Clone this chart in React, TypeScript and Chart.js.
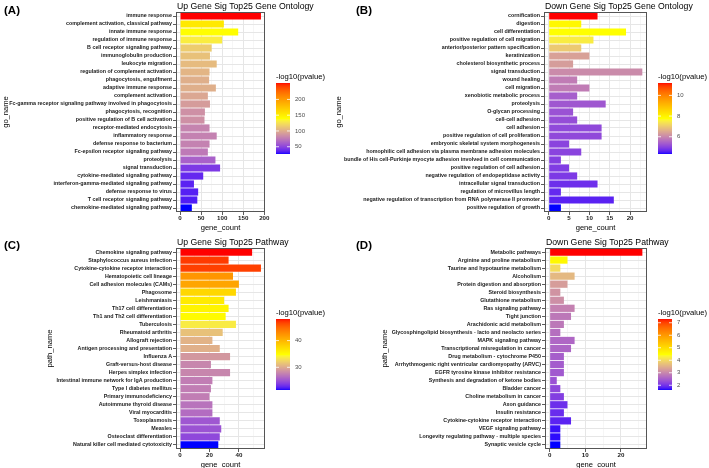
import React, { useEffect, useRef } from "react";
import { Chart, registerables } from "chart.js";
Chart.register(...registerables);

const FONT = "'Liberation Sans', Arial, Helvetica, sans-serif";

// ---------- DATA ----------
const goUpNames = [
  "immune response", "complement activation, classical pathway", "innate immune response",
  "regulation of immune response", "B cell receptor signaling pathway", "immunoglobulin production",
  "leukocyte migration", "regulation of complement activation", "phagocytosis, engulfment",
  "adaptive immune response", "complement activation",
  "Fc-gamma receptor signaling pathway involved in phagocytosis", "phagocytosis, recognition",
  "positive regulation of B cell activation", "receptor-mediated endocytosis", "inflammatory response",
  "defense response to bacterium", "Fc-epsilon receptor signaling pathway", "proteolysis",
  "signal transduction", "cytokine-mediated signaling pathway",
  "interferon-gamma-mediated signaling pathway", "defense response to virus",
  "T cell receptor signaling pathway", "chemokine-mediated signaling pathway",
];
const goUpCounts = [192, 104, 138, 100, 75, 71, 87, 70, 69, 85, 66, 71, 59, 58, 70, 87, 70, 66, 84, 95, 55, 33, 43, 41, 28];
const goUpLogP = [252, 153, 140, 131, 115, 110, 107, 104, 101, 101, 97, 92, 86, 86, 80, 79, 79, 75, 63, 45, 38, 36, 35, 34, 27];
const goUpLegendTicks = [50, 100, 150, 200];

const goDownNames = [
  "cornification", "digestion", "cell differentiation", "positive regulation of cell migration",
  "anterior/posterior pattern specification", "keratinization", "cholesterol biosynthetic process",
  "signal transduction", "wound healing", "cell migration", "xenobiotic metabolic process",
  "proteolysis", "O-glycan processing", "cell-cell adhesion", "cell adhesion",
  "positive regulation of cell proliferation", "embryonic skeletal system morphogenesis",
  "homophilic cell adhesion via plasma membrane adhesion molecules",
  "bundle of His cell-Purkinje myocyte adhesion involved in cell communication",
  "positive regulation of cell adhesion", "negative regulation of endopeptidase activity",
  "intracellular signal transduction", "regulation of microvillus length",
  "negative regulation of transcription from RNA polymerase II promoter", "positive regulation of growth",
];
const goDownCounts = [12, 8, 19, 11, 8, 10, 6, 23, 7, 10, 7, 14, 6, 7, 13, 13, 5, 8, 3, 5, 7, 12, 3, 16, 3];
const goDownLogP = [11.2, 7.9, 7.77, 7.49, 6.97, 6.39, 6.32, 6.05, 5.84, 5.84, 5.39, 5.29, 5.22, 5.15, 5.09, 5.09, 5.02, 5.02, 4.95, 4.91, 4.88, 4.74, 4.67, 4.6, 4.33];
const goDownLegendTicks = [6, 8, 10];

const pathUpNames = [
  "Chemokine signaling pathway", "Staphylococcus aureus infection", "Cytokine-cytokine receptor interaction",
  "Hematopoietic cell lineage", "Cell adhesion molecules (CAMs)", "Phagosome", "Leishmaniasis",
  "Th17 cell differentiation", "Th1 and Th2 cell differentiation", "Tuberculosis", "Rheumatoid arthritis",
  "Allograft rejection", "Antigen processing and presentation", "Influenza A", "Graft-versus-host disease",
  "Herpes simplex infection", "Intestinal immune network for IgA production", "Type I diabetes mellitus",
  "Primary immunodeficiency", "Autoimmune thyroid disease", "Viral myocarditis", "Toxoplasmosis",
  "Measles", "Osteoclast differentiation", "Natural killer cell mediated cytotoxicity",
];
const pathUpCounts = [49, 33, 55, 36, 40, 38, 30, 33, 31, 38, 29, 22, 27, 34, 21, 34, 22, 21, 20, 22, 22, 27, 28, 27, 26];
const pathUpLogP = [48.1, 47.0, 46.8, 42.2, 41.2, 37.7, 36.3, 35.6, 35.1, 33.7, 31.3, 30.5, 30.3, 28.9, 27.9, 27.9, 27.4, 27.4, 27.4, 26.8, 26.4, 25.2, 25.0, 24.4, 21.5];
const pathUpLegendTicks = [30, 40];

const pathDownNames = [
  "Metabolic pathways", "Arginine and proline metabolism", "Taurine and hypotaurine metabolism",
  "Alcoholism", "Protein digestion and absorption", "Steroid biosynthesis", "Glutathione metabolism",
  "Ras signaling pathway", "Tight junction", "Arachidonic acid metabolism",
  "Glycosphingolipid biosynthesis - lacto and neolacto series", "MAPK signaling pathway",
  "Transcriptional misregulation in cancer", "Drug metabolism - cytochrome P450",
  "Arrhythmogenic right ventricular cardiomyopathy (ARVC)", "EGFR tyrosine kinase inhibitor resistance",
  "Synthesis and degradation of ketone bodies", "Bladder cancer", "Choline metabolism in cancer",
  "Axon guidance", "Insulin resistance", "Cytokine-cytokine receptor interaction",
  "VEGF signaling pathway", "Longevity regulating pathway - multiple species", "Synaptic vesicle cycle",
];
const pathDownCounts = [26, 5, 3, 7, 5, 3, 4, 7, 6, 4, 3, 7, 6, 4, 4, 4, 2, 3, 4, 5, 4, 6, 3, 3, 3];
const pathDownLogP = [7.3, 4.57, 4.01, 3.61, 3.27, 3.15, 3.1, 2.93, 2.81, 2.81, 2.7, 2.61, 2.59, 2.5, 2.47, 2.44, 2.36, 2.24, 2.13, 1.96, 1.93, 1.85, 1.71, 1.68, 1.62];
const pathDownLegendTicks = [2, 3, 4, 5, 6, 7];

// ---------- COLOUR (Lab interpolation blue -> yellow -> red) ----------
const Xn = 0.95047, Yn = 1, Zn = 1.08883;
const toLin = (c: number) => { c /= 255; return c <= 0.04045 ? c / 12.92 : Math.pow((c + 0.055) / 1.055, 2.4); };
const fromLin = (c: number) => {
  const v = c <= 0.0031308 ? 12.92 * c : 1.055 * Math.pow(Math.max(c, 0), 1 / 2.4) - 0.055;
  return Math.round(Math.max(0, Math.min(1, v)) * 255);
};
const fl = (t: number) => (t > 0.008856 ? Math.cbrt(t) : 7.787 * t + 16 / 116);
const finv = (t: number) => (t > 0.206893 ? t * t * t : (t - 16 / 116) / 7.787);
function rgb2lab(rgb: number[]) {
  const R = toLin(rgb[0]), G = toLin(rgb[1]), B = toLin(rgb[2]);
  const X = 0.4124 * R + 0.3576 * G + 0.1805 * B;
  const Y = 0.2126 * R + 0.7152 * G + 0.0722 * B;
  const Z = 0.0193 * R + 0.1192 * G + 0.9505 * B;
  const fx = fl(X / Xn), fy = fl(Y / Yn), fz = fl(Z / Zn);
  return [116 * fy - 16, 500 * (fx - fy), 200 * (fy - fz)];
}
function lab2rgb(lab: number[]) {
  const fy = (lab[0] + 16) / 116, fx = fy + lab[1] / 500, fz = fy - lab[2] / 200;
  const X = Xn * finv(fx), Y = Yn * finv(fy), Z = Zn * finv(fz);
  const R = 3.2406 * X - 1.5372 * Y - 0.4986 * Z;
  const G = -0.9689 * X + 1.8758 * Y + 0.0415 * Z;
  const B = 0.0557 * X - 0.204 * Y + 1.057 * Z;
  return [fromLin(R), fromLin(G), fromLin(B)];
}
const STOPS = [[0, 0, 255], [255, 255, 0], [255, 0, 0]].map(rgb2lab);
function colorAt(t: number) {
  t = Math.max(0, Math.min(1, t));
  const seg = t < 0.5 ? 0 : 1;
  const u = seg === 0 ? t * 2 : (t - 0.5) * 2;
  const a = STOPS[seg], b = STOPS[seg + 1];
  const rgb = lab2rgb([a[0] + (b[0] - a[0]) * u, a[1] + (b[1] - a[1]) * u, a[2] + (b[2] - a[2]) * u]);
  return `rgb(${rgb[0]},${rgb[1]},${rgb[2]})`;
}

// ---------- PANELS ----------
type Spec = {
  letter: string; letterPos: [number, number]; title: string; yTitle: string; yTitleX: number;
  names: string[]; counts: number[]; logp: number[]; legendTicks: number[];
  minor: number; major: number;
  canvas: { x: number; y: number; w: number; h: number };
  plot: { l: number; r: number; t: number; b: number };
};

const SPECS: Spec[] = [
  {
    letter: "(A)", letterPos: [4, 14], title: "Up Gene Sig Top25 Gene Ontology", yTitle: "go_name", yTitleX: 6,
    names: goUpNames, counts: goUpCounts, logp: goUpLogP, legendTicks: goUpLegendTicks, minor: 25, major: 50,
    canvas: { x: 0, y: 0, w: 334, h: 234 }, plot: { l: 176, r: 265, t: 12, b: 212 },
  },
  {
    letter: "(B)", letterPos: [356, 14], title: "Down Gene Sig Top25 Gene Ontology", yTitle: "go_name", yTitleX: 339,
    names: goDownNames, counts: goDownCounts, logp: goDownLogP, legendTicks: goDownLegendTicks, minor: 2.5, major: 5,
    canvas: { x: 334, y: 0, w: 375, h: 234 }, plot: { l: 544, r: 647, t: 12, b: 212 },
  },
  {
    letter: "(C)", letterPos: [4, 249], title: "Up Gene Sig Top25 Pathway", yTitle: "path_name", yTitleX: 50,
    names: pathUpNames, counts: pathUpCounts, logp: pathUpLogP, legendTicks: pathUpLegendTicks, minor: 10, major: 20,
    canvas: { x: 0, y: 234, w: 334, h: 234 }, plot: { l: 176, r: 265, t: 248, b: 449 },
  },
  {
    letter: "(D)", letterPos: [356, 249], title: "Down Gene Sig Top25 Pathway", yTitle: "path_name", yTitleX: 385,
    names: pathDownNames, counts: pathDownCounts, logp: pathDownLogP, legendTicks: pathDownLegendTicks, minor: 5, major: 10,
    canvas: { x: 355, y: 234, w: 354, h: 234 }, plot: { l: 545, r: 647, t: 248, b: 449 },
  },
];

const X_AXIS_H = 12;

function makeDeco(spec: Spec, lo: number, hi: number) {
  const cx = spec.canvas.x, cy = spec.canvas.y;
  return {
    id: "deco",
    afterDatasetsDraw(chart: any) {
      const ctx = chart.ctx as CanvasRenderingContext2D;
      const a = chart.chartArea;
      ctx.save();
      ctx.strokeStyle = "#555555";
      ctx.lineWidth = 1;
      ctx.strokeRect(Math.round(a.left) + 0.5, Math.round(a.top) + 0.5, Math.round(a.right - a.left) - 1, Math.round(a.bottom - a.top) - 1);
      ctx.restore();
    },
    afterDraw(chart: any) {
      const ctx = chart.ctx as CanvasRenderingContext2D;
      const p = spec.plot;
      ctx.save();
      // panel letter
      ctx.fillStyle = "#000";
      ctx.textAlign = "left";
      ctx.textBaseline = "alphabetic";
      ctx.font = `bold 11.5px ${FONT}`;
      ctx.fillText(spec.letter, spec.letterPos[0] - cx, spec.letterPos[1] - cy);
      // title
      ctx.font = `8.7px ${FONT}`;
      ctx.fillText(spec.title, p.l + 1 - cx, p.t - 3.5 - cy);
      // x title
      ctx.font = `7.6px ${FONT}`;
      ctx.textAlign = "center";
      ctx.textBaseline = "middle";
      ctx.fillText("gene_count", (p.l + p.r) / 2 - cx, p.b + 15.5 - cy);
      // y title
      ctx.save();
      ctx.translate(spec.yTitleX - cx, (p.t + p.b) / 2 - cy);
      ctx.rotate(-Math.PI / 2);
      ctx.fillText(spec.yTitle, 0, 0);
      ctx.restore();
      // colour bar
      const cb = { x: p.r + 11 - cx, y: p.t + 71 - cy, w: 14, h: 71 };
      for (let i = 0; i < cb.h; i++) {
        ctx.fillStyle = colorAt(1 - (i + 0.5) / cb.h);
        ctx.fillRect(cb.x, cb.y + i, cb.w, 1);
      }
      ctx.fillStyle = "#000";
      ctx.textAlign = "left";
      ctx.textBaseline = "alphabetic";
      ctx.font = `7.7px ${FONT}`;
      ctx.fillText("-log10(pvalue)", cb.x, cb.y - 4);
      ctx.font = `6px ${FONT}`;
      ctx.textBaseline = "middle";
      spec.legendTicks.forEach((v) => {
        const y = cb.y + (1 - (v - lo) / (hi - lo)) * cb.h;
        ctx.strokeStyle = "#ffffff";
        ctx.lineWidth = 0.8;
        ctx.beginPath();
        ctx.moveTo(cb.x, y); ctx.lineTo(cb.x + 3, y);
        ctx.moveTo(cb.x + cb.w - 3, y); ctx.lineTo(cb.x + cb.w, y);
        ctx.stroke();
        ctx.fillStyle = "#4d4d4d";
        ctx.fillText(String(v), cb.x + cb.w + 5, y);
      });
      ctx.restore();
    },
  };
}

function buildConfig(spec: Spec): any {
  const lo = Math.min(...spec.logp), hi = Math.max(...spec.logp);
  const maxCount = Math.max(...spec.counts);
  const xmin = -0.05 * maxCount, xmax = 1.05 * maxCount;
  const tickVals: number[] = [];
  for (let i = 0; i * spec.minor <= xmax; i++) tickVals.push(Math.round(i * spec.minor * 1000) / 1000);
  const isMajor = (v: number) => Math.abs(v / spec.major - Math.round(v / spec.major)) < 1e-6;
  const c = spec.canvas, p = spec.plot;
  return {
    type: "bar",
    data: {
      labels: spec.names,
      datasets: [{
        data: spec.counts,
        backgroundColor: spec.logp.map((v) => colorAt((v - lo) / (hi - lo))),
        borderWidth: 0,
        barPercentage: 0.9,
        categoryPercentage: 1,
      }],
    },
    options: {
      indexAxis: "y",
      responsive: false,
      animation: false,
      devicePixelRatio: 1,
      layout: {
        padding: {
          left: 0,
          top: p.t - c.y,
          right: c.x + c.w - p.r,
          bottom: c.y + c.h - p.b - X_AXIS_H,
        },
      },
      plugins: { legend: { display: false }, title: { display: false }, tooltip: { enabled: false } },
      scales: {
        x: {
          type: "linear",
          min: xmin,
          max: xmax,
          bounds: "data",
          afterBuildTicks: (s: any) => { s.ticks = tickVals.map((v) => ({ value: v })); },
          afterFit: (s: any) => { s.height = X_AXIS_H; },
          border: { display: false },
          grid: {
            color: (ctx: any) => (ctx.tick && isMajor(ctx.tick.value) ? "#e6e6e6" : "#f0f0f0"),
            lineWidth: (ctx: any) => (ctx.tick && isMajor(ctx.tick.value) ? 1 : 0.6),
            tickColor: (ctx: any) => (ctx.tick && isMajor(ctx.tick.value) ? "#333333" : "rgba(0,0,0,0)"),
            tickLength: 3,
            tickWidth: 0.8,
          },
          ticks: {
            autoSkip: false,
            maxRotation: 0,
            padding: 0,
            color: "#1a1a1a",
            font: { family: FONT, size: 6.2, weight: "bold" },
            callback: (v: any) => (isMajor(Number(v)) ? String(v) : ""),
          },
        },
        y: {
          type: "category",
          afterFit: (s: any) => { s.width = p.l - c.x; },
          border: { display: false },
          grid: { offset: false, color: "#e6e6e6", lineWidth: 1, tickColor: "#333333", tickLength: 3, tickWidth: 0.8 },
          ticks: {
            autoSkip: false,
            padding: 1,
            color: "#1a1a1a",
            font: { family: FONT, size: 5.35, weight: "bold" },
          },
        },
      },
    },
    plugins: [makeDeco(spec, lo, hi)],
  };
}

function Panel({ spec }: { spec: Spec }) {
  const ref = useRef<HTMLCanvasElement>(null);
  useEffect(() => {
    const chart = new Chart(ref.current as HTMLCanvasElement, buildConfig(spec));
    return () => chart.destroy();
  }, [spec]);
  const c = spec.canvas;
  return (
    <canvas
      ref={ref}
      width={c.w}
      height={c.h}
      style={{ position: "absolute", left: c.x, top: c.y, width: c.w, height: c.h }}
    />
  );
}

export default function App() {
  return (
    <div style={{ position: "fixed", left: 0, top: 0, width: 709, height: 468, background: "#ffffff", overflow: "hidden" }}>
      {SPECS.map((s) => (
        <Panel key={s.letter} spec={s} />
      ))}
    </div>
  );
}
